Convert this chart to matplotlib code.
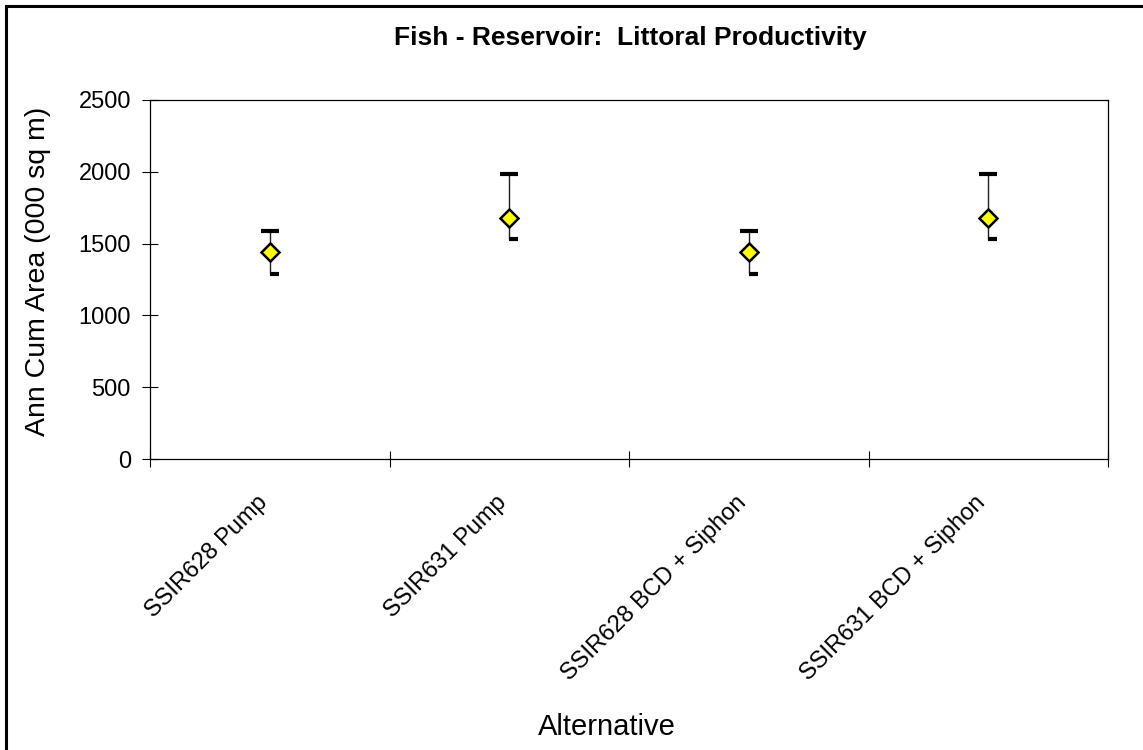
"""Fish - Reservoir: Littoral Productivity, mean with high/low range."""

import matplotlib
matplotlib.use('Agg')
import matplotlib.pyplot as plt
from matplotlib.path import Path
from matplotlib.markers import MarkerStyle
from matplotlib.patches import Rectangle
from matplotlib.transforms import ScaledTranslation
import numpy as np

plt.rcParams['font.family'] = ['Liberation Sans', 'DejaVu Sans']

alternatives = ['SSIR628 Pump', 'SSIR631 Pump',
                'SSIR628 BCD + Siphon', 'SSIR631 BCD + Siphon']
mean_area = [1440, 1680, 1440, 1680]
high_area = [1590, 1985, 1590, 1985]
low_area = [1285, 1535, 1285, 1535]

W, H = 1143, 750
fig = plt.figure(figsize=(W / 100, H / 100), dpi=100, facecolor='white')

# plot area in pixel terms (Excel layout)
left, right, top, bottom = 150, 1108, 100, 459
ax = fig.add_axes([left / W, (H - bottom) / H, (right - left) / W, (bottom - top) / H])

x = np.arange(len(alternatives))

# high-low line
ax.vlines(x, low_area, high_area, color='#202020', linewidth=1.0, zorder=2)

# caps: high is centred, low sits to the right of the line
ax.plot(x, high_area, linestyle='none', marker='_', markersize=12.5,
        markeredgewidth=3.0, color='black', zorder=3)
low_cap = MarkerStyle(Path([(0, 0), (1, 0)]))
ax.plot(x, low_area, linestyle='none', marker=low_cap, markersize=13.6,
        markeredgewidth=3.0, color='black', zorder=3)

# mean markers
ax.plot(x, mean_area, linestyle='none', marker='D', markersize=9.6,
        markerfacecolor='#ffff00', markeredgecolor='black',
        markeredgewidth=1.8, zorder=4)

ax.set_xlim(-0.5, len(alternatives) - 0.5)
ax.set_ylim(0, 2500)
ax.set_yticks(np.arange(0, 2501, 500))
ax.tick_params(axis='y', direction='inout', length=11.5, width=0.8,
               labelsize=17, pad=8)

ax.set_xticks(np.arange(-0.5, len(alternatives), 1.0))
ax.set_xticklabels([])
ax.tick_params(axis='x', which='major', direction='inout', length=11.5, width=0.8)
ax.set_xticks(x, minor=True)
ax.set_xticklabels(alternatives, minor=True, rotation=45, ha='right',
                   va='center', rotation_mode='anchor', fontsize=17)
ax.tick_params(axis='x', which='minor', length=0, pad=29)
shift = ScaledTranslation(-6 / 100, 0, fig.dpi_scale_trans)
for lbl in ax.get_xticklabels(minor=True):
    lbl.set_transform(lbl.get_transform() + shift)

for sp in ax.spines.values():
    sp.set_linewidth(0.9)
    sp.set_color('black')

fig.text(38 / W, (H - 271) / H, 'Ann Cum Area (000 sq m)', fontsize=20.5,
         rotation=90, ha='center', va='center')
fig.text(607 / W, (H - 727) / H, 'Alternative', fontsize=21,
         ha='center', va='center')
fig.text(630 / W, (H - 38) / H, 'Fish - Reservoir:  Littoral Productivity',
         fontsize=19, fontweight='bold', ha='center', va='center')

# outer chart frame (only left/top edges visible in the crop)
fig.patches.append(Rectangle((5.5 / W, -0.1), 1.2, (H - 5.5) / H + 0.1,
                             transform=fig.transFigure, fill=False,
                             edgecolor='black', linewidth=2.2, zorder=0))

fig.savefig('out.png', dpi=100, facecolor='white')
